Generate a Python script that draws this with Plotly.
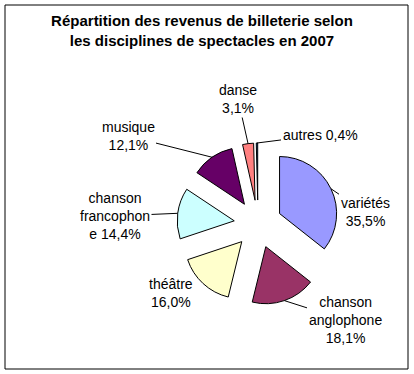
import math
import plotly.graph_objects as go

categories = ["variétés", "chanson anglophone", "théâtre", "chanson francophone",
              "musique", "danse", "autres"]
label_text = ["variétés<br>", "chanson<br>anglophone<br>", "théâtre<br>",
              "chanson<br>francophon<br>e ", "musique<br>", "danse<br>", "autres "]
values = [35.5, 18.1, 16.0, 14.4, 12.1, 3.1, 0.4]
colors = ["#9999FF", "#993366", "#FFFFCC", "#CCFFFF", "#660066", "#FF8080", "#0066CC"]
title_lines = ["Répartition des revenus de billeterie selon",
               "les disciplines de spectacles en 2007"]

# layout: where each data label sits (pixel centre) and whether it has a leader line
label_pos = [(365, 212), (345, 320), (171, 312), (115, 216), (128, 136), (238, 99), (320, 135)]
leader = [True, True, False, True, True, True, True]

W, H = 414, 374
ml, mr, mt, mb = 5, 6, 5, 5
pw, ph = W - ml - mr, H - mt - mb
PULL = 0.42

# pie box in pixels
cx, cy, half = 258, 224, 81
dom_x = [(cx - half - ml) / pw, (cx + half - ml) / pw]
dom_y = [(H - mb - (cy + half)) / ph, (H - mb - (cy - half)) / ph]
radius = half / (1 + PULL)


def to_paper(px, py):
    return (px - ml) / pw, (H - mb - py) / ph


def fmt(v):
    return f"{v:.1f}".replace(".", ",") + "%"


fig = go.Figure(go.Pie(
    labels=categories,
    values=values,
    textinfo="none",
    sort=False,
    direction="clockwise",
    rotation=0,
    pull=[PULL] * len(values),
    marker=dict(colors=colors, line=dict(color="black", width=1)),
    domain=dict(x=dom_x, y=dom_y),
    showlegend=False,
    hoverinfo="label+value",
))

# data labels with leader lines pointing at each slice's outer mid point
total = sum(values)
cum = 0.0
annotations = []
for lab, v, (lx, ly), has_line in zip(label_text, values, label_pos, leader):
    theta = 2 * math.pi * (cum + v / 2) / total
    cum += v
    dx, dy = math.sin(theta), -math.cos(theta)
    tip_px = cx + radius * (1 + PULL) * dx
    tip_py = cy + radius * (1 + PULL) * dy
    text = lab + fmt(v)
    if has_line:
        tx, ty = to_paper(tip_px, tip_py)
        annotations.append(dict(
            x=tx, y=ty, xref="paper", yref="paper", text=text,
            showarrow=True, arrowhead=0, arrowwidth=1, arrowcolor="black",
            standoff=0, ax=lx - tip_px, ay=ly - tip_py, align="center",
            font=dict(family="Arial, Liberation Sans", size=14, color="black")))
    else:
        px_, py_ = to_paper(lx, ly)
        annotations.append(dict(
            x=px_, y=py_, xref="paper", yref="paper", text=text,
            showarrow=False, align="center",
            font=dict(family="Arial, Liberation Sans", size=14, color="black")))

fig.update_layout(
    width=W, height=H,
    margin=dict(l=ml, r=mr, t=mt, b=mb, autoexpand=False),
    paper_bgcolor="white", plot_bgcolor="white",
    separators=", ",
    font=dict(family="Arial, Liberation Sans", size=14, color="black"),
    title=dict(text="<b>" + "<br>".join(title_lines) + "</b>",
               x=(202 - ml) / pw, xref="paper", xanchor="center",
               y=1 - 26 / H, yref="container", yanchor="top",
               font=dict(family="Arial, Liberation Sans", size=15, color="black")),
    annotations=annotations,
    shapes=[dict(type="rect", xref="paper", yref="paper", x0=0, x1=1, y0=0, y1=1,
                 line=dict(color="black", width=1))],
)

fig.write_html("out.html",
               config={"displayModeBar": False},
               post_script="document.body.style.margin='0';"
                           "document.body.style.overflow='hidden';"
                           "document.documentElement.style.overflow='hidden';")
